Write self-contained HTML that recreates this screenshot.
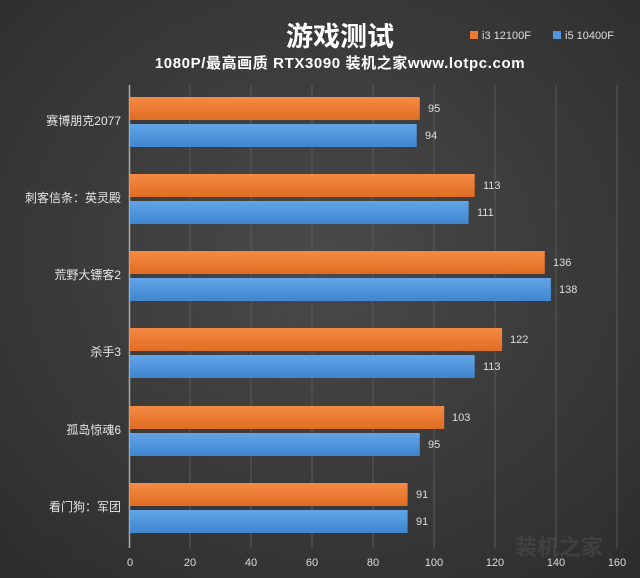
<!DOCTYPE html>
<html><head><meta charset="utf-8"><style>
html,body{margin:0;padding:0;background:#3a3a3a;}
svg{display:block;}
text{font-family:"Liberation Sans","Noto Sans CJK SC",sans-serif;}
</style></head><body>
<svg width="640" height="578" viewBox="0 0 640 578" xmlns="http://www.w3.org/2000/svg">
<defs>
<radialGradient id="bg" cx="50%" cy="45%" r="75%">
<stop offset="0" stop-color="#4a4a4a"/><stop offset="1" stop-color="#2c2c2c"/>
</radialGradient>
<linearGradient id="og" x1="0" y1="0" x2="0" y2="1">
<stop offset="0" stop-color="#f58a45"/><stop offset="1" stop-color="#e06d22"/>
</linearGradient>
<linearGradient id="bl" x1="0" y1="0" x2="0" y2="1">
<stop offset="0" stop-color="#62a4e6"/><stop offset="1" stop-color="#3f86d0"/>
</linearGradient>
</defs>
<rect width="640" height="578" fill="url(#bg)"/>
<g stroke="#5a5a5a" stroke-width="1">
<line x1="190" y1="85" x2="190" y2="548"/><line x1="251" y1="85" x2="251" y2="548"/>
<line x1="312" y1="85" x2="312" y2="548"/><line x1="373" y1="85" x2="373" y2="548"/>
<line x1="434" y1="85" x2="434" y2="548"/><line x1="495" y1="85" x2="495" y2="548"/>
<line x1="556" y1="85" x2="556" y2="548"/><line x1="617" y1="85" x2="617" y2="548"/>
</g>
<line x1="129.5" y1="85" x2="129.5" y2="548" stroke="#aaa" stroke-width="1.5"/>
<text x="340" y="46" text-anchor="middle" fill="#fff" font-size="27" font-weight="bold">游戏测试</text>
<text x="340" y="68" text-anchor="middle" fill="#fff" font-size="15" font-weight="bold" letter-spacing="0.6">1080P/最高画质 RTX3090 装机之家www.lotpc.com</text>
<rect x="470" y="31" width="8" height="8" fill="#ee7a30"/>
<text x="482" y="39" fill="#ddd" font-size="11">i3 12100F</text>
<rect x="553" y="31" width="8" height="8" fill="#4f96dc"/>
<text x="565" y="39" fill="#ddd" font-size="11">i5 10400F</text>
<g font-size="12" fill="#e6e6e6" text-anchor="end">
<text x="121" y="125">赛博朋克2077</text>
<text x="121" y="202">刺客信条：英灵殿</text>
<text x="121" y="279">荒野大镖客2</text>
<text x="121" y="356">杀手3</text>
<text x="121" y="434">孤岛惊魂6</text>
<text x="121" y="511">看门狗：军团</text>
</g>
<g>
<rect x="130" y="97" width="289.8" height="23" fill="url(#og)"/>
<rect x="130" y="124" width="286.7" height="23" fill="url(#bl)"/>
<rect x="130" y="174" width="344.7" height="23" fill="url(#og)"/>
<rect x="130" y="201" width="338.6" height="23" fill="url(#bl)"/>
<rect x="130" y="251" width="414.8" height="23" fill="url(#og)"/>
<rect x="130" y="278" width="420.9" height="23" fill="url(#bl)"/>
<rect x="130" y="328" width="372.1" height="23" fill="url(#og)"/>
<rect x="130" y="355" width="344.7" height="23" fill="url(#bl)"/>
<rect x="130" y="406" width="314.2" height="23" fill="url(#og)"/>
<rect x="130" y="433" width="289.8" height="23" fill="url(#bl)"/>
<rect x="130" y="483" width="277.6" height="23" fill="url(#og)"/>
<rect x="130" y="510" width="277.6" height="23" fill="url(#bl)"/>
</g>
<g font-size="11" fill="#ddd">
<text x="428" y="112">95</text><text x="425" y="139">94</text>
<text x="483" y="189">113</text><text x="477" y="216">111</text>
<text x="553" y="266">136</text><text x="559" y="293">138</text>
<text x="510" y="343">122</text><text x="483" y="370">113</text>
<text x="452" y="421">103</text><text x="428" y="448">95</text>
<text x="416" y="498">91</text><text x="416" y="525">91</text>
</g>
<g font-size="11" fill="#ddd" text-anchor="middle">
<text x="130" y="566">0</text><text x="190" y="566">20</text><text x="251" y="566">40</text>
<text x="312" y="566">60</text><text x="373" y="566">80</text><text x="434" y="566">100</text>
<text x="495" y="566">120</text><text x="556" y="566">140</text><text x="617" y="566">160</text>
</g>
<text x="515" y="555" fill="#505050" font-size="22" font-weight="bold" opacity="0.5">装机之家</text>
</svg>
</body></html>
